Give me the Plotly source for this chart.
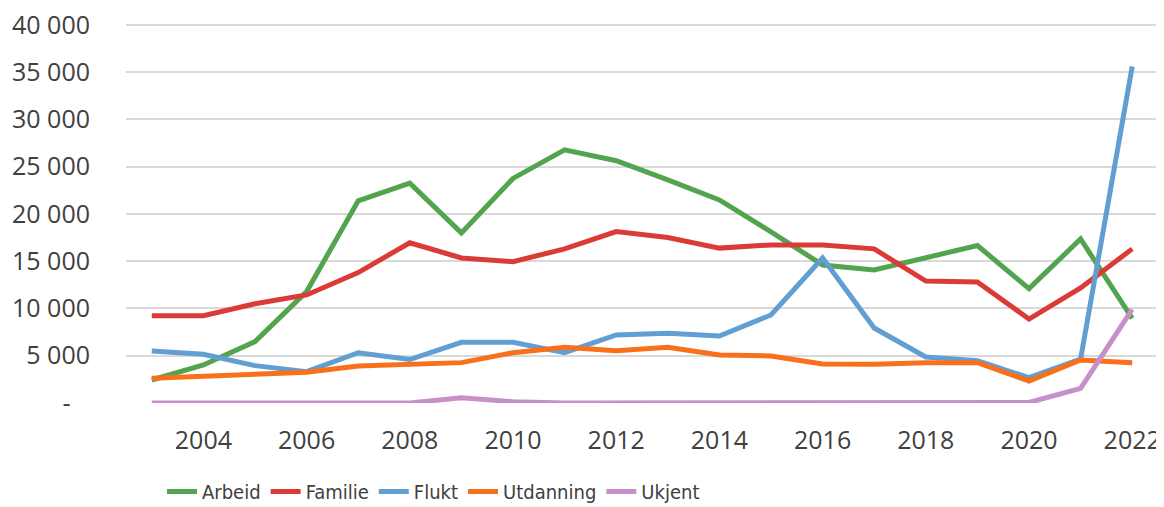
import plotly.graph_objects as go

years = list(range(2003, 2023))
arbeid = [2430, 4020, 6490, 11780, 21380, 23250, 17990, 23750, 26770, 25620, 23600, 21480, 18100, 14600, 14070, 15300, 16650, 12100, 17350, 8950]
familie = [9240, 9240, 10500, 11430, 13790, 16950, 15340, 14950, 16300, 18130, 17500, 16380, 16720, 16720, 16300, 12900, 12800, 8880, 12170, 16300]
flukt = [5500, 5150, 3950, 3310, 5320, 4600, 6420, 6420, 5320, 7200, 7370, 7090, 9310, 15340, 7930, 4860, 4480, 2680, 4650, 35590]
utdanning = [2610, 2780, 3070, 3250, 3920, 4090, 4270, 5320, 5890, 5530, 5890, 5080, 4970, 4130, 4090, 4270, 4270, 2330, 4550, 4270]
ukjent = [0, 0, 0, 0, 0, 0, 560, 140, 0, 0, 0, 0, 0, 0, 0, 0, 0, 50, 1550, 9910]

series = [
    ("Arbeid", arbeid, "#52A44E"),
    ("Familie", familie, "#DB3B36"),
    ("Flukt", flukt, "#619ED2"),
    ("Utdanning", utdanning, "#F8711A"),
    ("Ukjent", ukjent, "#C790C9"),
]

ytickvals = [0, 5000, 10000, 15000, 20000, 25000, 30000, 35000, 40000]
yticktext = ["-\u00a0\u00a0\u00a0", "5 000", "10 000", "15 000", "20 000", "25 000", "30 000", "35 000", "40 000"]
xtickvals = list(range(2004, 2023, 2))

W, H = 1164, 507

fig = go.Figure()
for name, vals, color in series:
    fig.add_trace(go.Scatter(x=years, y=vals, name=name, mode="lines",
                             line=dict(color=color, width=5)))

fig.update_layout(
    width=W, height=H,
    margin=dict(l=118, r=14, t=13, b=112, autoexpand=False),
    paper_bgcolor="white", plot_bgcolor="white",
    font=dict(family="Open Sans", size=25, color="#404040"),
    showlegend=True,
    legend=dict(orientation="h", xref="container", x=154 / W, xanchor="left",
                yref="container", y=1 - 464 / H, yanchor="top",
                font=dict(family="DejaVu Sans Condensed, Open Sans",
                          size=20, color="#404040"),
                itemwidth=30, tracegroupgap=0, bgcolor="rgba(0,0,0,0)"),
    xaxis=dict(range=[2002.5, 2022.5], tickvals=xtickvals, showgrid=False,
               zeroline=False, showline=False, ticks="", ticklabelstandoff=20,
               automargin=False, ticklabeloverflow="allow"),
    yaxis=dict(range=[0, 40400], tickvals=ytickvals, ticktext=yticktext,
               showgrid=True, gridcolor="#D9D9D9", gridwidth=1.5, zeroline=False,
               showline=False, ticks="", ticklabelstandoff=35, automargin=False,
               ticklabeloverflow="allow"),
)

fig.write_html("out.html")
